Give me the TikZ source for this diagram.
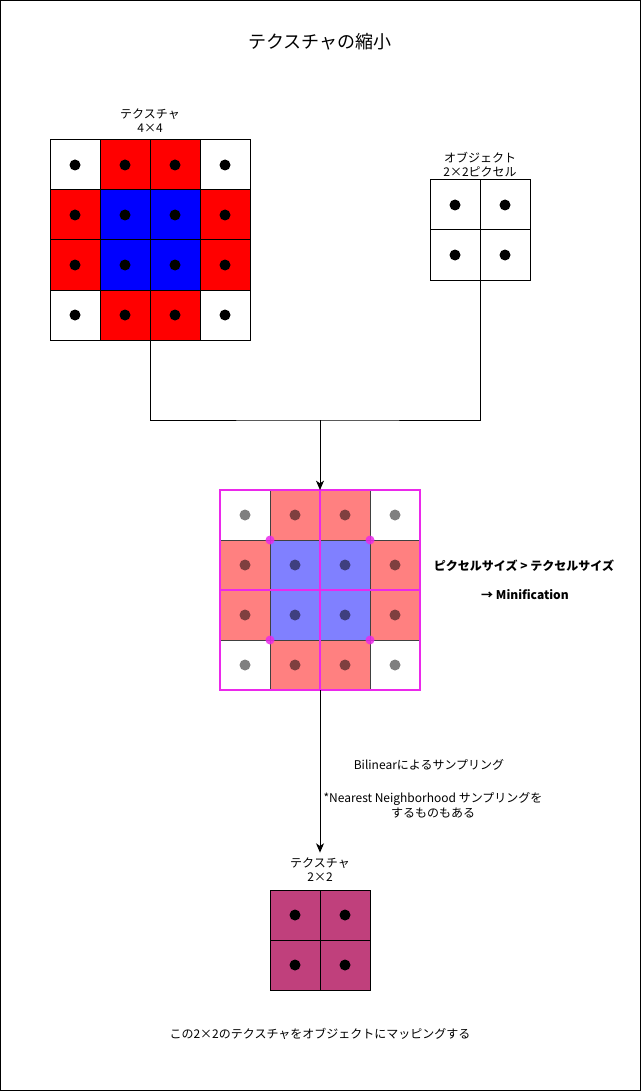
\documentclass[tikz,border=0pt]{standalone}
\usepackage{fontspec}
\setmainfont{Noto Sans CJK JP}
\usetikzlibrary{positioning,arrows.meta}
\definecolor{texred}{RGB}{255,0,0}
\definecolor{texblue}{RGB}{0,0,255}
\definecolor{mixred}{RGB}{255,128,128}
\definecolor{mixblue}{RGB}{128,128,255}
\definecolor{smpline}{RGB}{235,40,235}
\definecolor{outpink}{RGB}{192,64,124}

\begin{document}
\begin{tikzpicture}[x=0.75pt,y=-0.75pt]
\tikzset{
  cell/.style={draw,line width=0.75pt,minimum size=37.5pt,inner sep=0pt,outer sep=0pt},
  lbl/.style={align=center,font=\fontsize{9}{11}\selectfont},
  conn/.style={draw,line width=0.75pt},
  smp/.style={draw=smpline,line width=1.5pt},
}
% frame
\useasboundingbox (0,0) rectangle (641,1091);
\draw[line width=1pt] (0.7,0.7) rectangle (640.3,1090.3);
\node[font=\fontsize{13.5}{16}\selectfont] (title) at (320,42) {テクスチャの縮小};

% 4x4 texture
\foreach \r/\a/\b in {1/white/texred,2/texred/texblue,3/texred/texblue,4/white/texred}
  \foreach \c/\f in {1/\a,2/\b,3/\b,4/\a}{
    \node[cell,fill=\f] (tx\r\c) at (25+50*\c,115+50*\r) {};
    \fill (tx\r\c) circle[radius=5.5];
  }
\node[lbl] (txlabel) at (150,120.5) {テクスチャ\\4×4};

% object 2x2
\foreach \r in {1,2}
  \foreach \c in {1,2}{
    \node[cell] (ob\r\c) at (405+50*\c,155+50*\r) {};
    \fill (ob\r\c) circle[radius=5.5];
  }
\node[lbl] (oblabel) at (480,164.5) {オブジェクト\\2×2ピクセル};

% sampling grid
\foreach \r/\a/\b in {1/white/mixred,2/mixred/mixblue,3/mixred/mixblue,4/white/mixred}
  \foreach \c/\f in {1/\a,2/\b,3/\b,4/\a}{
    \node[cell,draw=black!75,fill=\f] (mg\r\c) at (195+50*\c,465+50*\r) {};
    \fill[opacity=0.5] (mg\r\c) circle[radius=5.5];
  }
\draw[smp] (mg11.north west) rectangle (mg44.south east);
\draw[smp] (mg12.north east) -- (mg42.south east);
\draw[smp] (mg21.south west) -- (mg24.south east);
\foreach \p in {mg22.north west,mg23.north east,mg32.south west,mg33.south east}
  \fill[smpline,opacity=0.85] (\p) circle[radius=4.5];

% 2x2 result
\foreach \r in {1,2}
  \foreach \c in {1,2}{
    \node[cell,fill=outpink] (fg\r\c) at (245+50*\c,865+50*\r) {};
    \fill (fg\r\c) circle[radius=5.5];
  }
\node[lbl] (fglabel) at (320,869.5) {テクスチャ\\2×2};

% connectors
\coordinate (join) at (320,420);
\draw[conn] (tx42.south east) |- (join) -| (ob22.south west);
\draw[conn,-{Stealth[length=7pt,width=6pt,inset=2pt]}] (join) -- (mg12.north east);
\draw[conn,-{Stealth[length=7pt,width=6pt,inset=2pt]}] (mg42.south east) -- (fglabel.north);

% notes
\node[lbl,font=\fontsize{9}{11}\selectfont\bfseries] (size) at (524,566) {ピクセルサイズ > テクセルサイズ};
\node[lbl,font=\fontsize{9}{11}\selectfont\bfseries] (minif) at (525,595) {→ Minification};
\node[lbl] (bilin) at (429,765) {Bilinearによるサンプリング};
\node[lbl] (nearest) at (433,805) {*Nearest Neighborhood サンプリングを\\するものもある};
\node[lbl] (mapping) at (320,1034) {この2×2のテクスチャをオブジェクトにマッピングする};
\end{tikzpicture}
\end{document}
